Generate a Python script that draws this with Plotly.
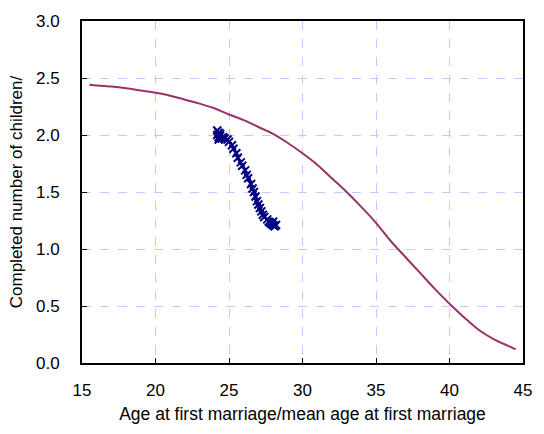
import plotly.graph_objects as go

# Curve: completed number of children vs age at first marriage
curve_x = [15.5, 16, 17, 18, 19, 20, 21, 22, 23, 24, 25, 26, 27, 28, 29, 30,
           31, 32, 33, 34, 35, 36, 37, 38, 39, 40, 41, 42, 43, 44, 44.5]
curve_y = [2.44, 2.435, 2.425, 2.41, 2.39, 2.37, 2.345, 2.31, 2.275, 2.235, 2.18,
           2.13, 2.07, 2.01, 1.93, 1.84, 1.74, 1.62, 1.50, 1.37, 1.23, 1.07,
           0.93, 0.79, 0.65, 0.52, 0.40, 0.29, 0.21, 0.15, 0.12]

# Observed: mean age at first marriage vs completed children
obs_x = [24.2, 24.3, 24.2, 24.3, 24.4, 24.3, 24.4, 24.5, 24.6, 24.7, 24.9, 25.0,
         25.2, 25.3, 25.5, 25.6, 25.8, 25.9, 26.1, 26.2, 26.3, 26.5, 26.6, 26.7,
         26.8, 26.9, 27.0, 27.1, 27.2, 27.3, 27.4, 27.6, 27.7, 27.8, 27.9, 28.0,
         28.1, 28.2, 28.0]
obs_y = [2.04, 2.02, 2.00, 1.98, 2.01, 1.96, 1.99, 1.97, 1.98, 1.97, 1.96, 1.94,
         1.91, 1.88, 1.84, 1.80, 1.76, 1.73, 1.69, 1.65, 1.62, 1.57, 1.53, 1.50,
         1.46, 1.42, 1.39, 1.36, 1.33, 1.30, 1.28, 1.26, 1.24, 1.23, 1.22, 1.21,
         1.20, 1.21, 1.24]

x_ticks = [15, 20, 25, 30, 35, 40, 45]
y_ticks = [0.0, 0.5, 1.0, 1.5, 2.0, 2.5, 3.0]
y_tick_labels = ["0.0", "0.5", "1.0", "1.5", "2.0", "2.5", "3.0"]

fig = go.Figure()
fig.add_trace(go.Scatter(x=curve_x, y=curve_y, mode="lines",
                         line=dict(color="#993366", width=2, shape="spline"),
                         showlegend=False))
fig.add_trace(go.Scatter(x=obs_x, y=obs_y, mode="lines+markers",
                         line=dict(color="#000080", width=1.5),
                         marker=dict(symbol="x-thin", size=8, color="#000080",
                                     line=dict(color="#000080", width=2)),
                         showlegend=False))

font = "Liberation Sans, Arial, sans-serif"
fig.update_layout(
    width=544, height=434,
    margin=dict(l=82, r=12, t=17, b=71),
    paper_bgcolor="white", plot_bgcolor="white",
    font=dict(family=font, size=17, color="black"),
    xaxis=dict(range=[15, 45], tickvals=x_ticks, ticks="inside", ticklen=5,
               tickcolor="black", showline=True, linecolor="black", linewidth=2,
               mirror=True, showgrid=True, gridcolor="#c8c8ff", griddash="dash",
               gridwidth=1, zeroline=False, ticklabelstandoff=11,
               title=dict(text="Age at first marriage/mean age at first marriage",
                          font=dict(size=17.5), standoff=8)),
    yaxis=dict(range=[0, 3], tickvals=y_ticks, ticktext=y_tick_labels,
               ticks="inside", ticklen=5, tickcolor="black", showline=True,
               linecolor="black", linewidth=2, mirror=True, showgrid=True,
               gridcolor="#c8c8ff", griddash="dash", gridwidth=1, zeroline=False,
               ticklabelstandoff=17,
               title=dict(text="Completed number of children/",
                          font=dict(size=17), standoff=9)),
)

fig.write_html("out.html")
